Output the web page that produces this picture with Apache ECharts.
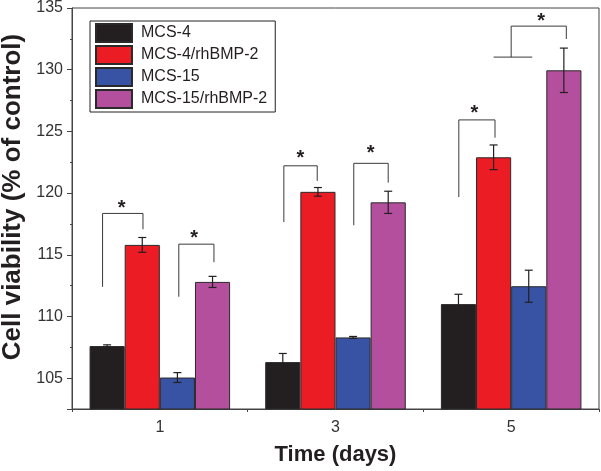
<!DOCTYPE html>
<html><head><meta charset="utf-8">
<script src="https://cdn.jsdelivr.net/npm/echarts@6/dist/echarts.min.js"></script>
<style>html,body{margin:0;padding:0;background:#fff}#c{width:601px;height:471px}</style>
</head><body><div id="c"></div>
<script>
// ---- data ----
const categories = ['1', '3', '5'];
const seriesNames = ['MCS-4', 'MCS-4/rhBMP-2', 'MCS-15', 'MCS-15/rhBMP-2'];
const mcs4 = [107.6, 106.3, 111.0];
const mcs4Err = [0.1, 0.7, 0.8];
const mcs4Bmp = [115.8, 120.1, 122.9];
const mcs4BmpErr = [0.6, 0.35, 1.0];
const mcs15 = [105.05, 108.3, 112.45];
const mcs15Err = [0.4, 0.08, 1.3];
const mcs15Bmp = [112.8, 119.25, 129.95];
const mcs15BmpErr = [0.45, 0.9, 1.8];
const seriesColors = ['#231f20', '#ec1c24', '#3853a4', '#b34f9d'];
// significance brackets: group index, polylines of [bar-slot offset, value], star [slot, value]
const bracketGroup = [0, 0, 1, 1, 2, 2];
const bracketLines = [
  [[[-1.63, 112.40], [-1.63, 118.35], [-0.48, 118.35], [-0.48, 117.07]]],
  [[[0.54, 111.60], [0.54, 115.86], [1.54, 115.86], [1.54, 114.40]]],
  [[[-1.47, 117.65], [-1.47, 122.21], [-0.52, 122.21], [-0.52, 120.99]]],
  [[[0.52, 117.39], [0.52, 122.41], [1.50, 122.41], [1.50, 120.85]]],
  [[[-1.49, 119.68], [-1.49, 125.93], [-0.46, 125.93], [-0.46, 124.49]]],
  [[[-0.50, 131.02], [0.60, 131.02]], [[0.0, 131.02], [0.0, 133.53], [1.57, 133.53], [1.57, 132.49]]]
];
const starPos = [[-1.09, 119.15], [0.98, 116.67], [-1.0, 123.21], [1.0, 123.61], [-1.05, 126.81], [0.85, 134.28]];
// ---- chart ----
const FONT = 'Liberation Sans, Arial, Helvetica, sans-serif';
const values = [mcs4, mcs4Bmp, mcs15, mcs15Bmp];
const errs = [mcs4Err, mcs4BmpErr, mcs15Err, mcs15BmpErr];
const BAR_FRAC = 0.2;

function slotPoint(api, cat, slot, v) {
  const p = api.coord([cat, v]);
  const bw = api.size([1, 0])[0] * BAR_FRAC;
  return [p[0] + slot * bw, p[1]];
}

const errData = [];
values.forEach((arr, s) => arr.forEach((v, c) => errData.push([c, v, errs[s][c], s - 1.5])));

const barSeries = seriesNames.map((name, s) => ({
  name, type: 'bar', data: values[s],
  barGap: '0%', barCategoryGap: '20%',
  itemStyle: { color: seriesColors[s], borderColor: '#2a2a2a', borderWidth: 1 },
  emphasis: { disabled: true }, z: 2
}));

const option = {
  animation: false,
  grid: { left: 72, right: 2, top: 6, bottom: 59, show: true, borderColor: '#444', borderWidth: 1, backgroundColor: 'transparent' },
  legend: {
    data: seriesNames, orient: 'vertical', left: 90, top: 21,
    itemWidth: 36, itemHeight: 18, itemGap: 2, padding: [2, 8, 3, 5],
    borderColor: '#222', borderWidth: 1, icon: 'rect',
    textStyle: { fontSize: 16, color: '#231f20', fontFamily: FONT, padding: [0, 0, 0, 4] }
  },
  xAxis: [{
    type: 'category', data: categories,
    name: 'Time (days)', nameLocation: 'middle', nameGap: 35,
    nameTextStyle: { fontSize: 22, fontWeight: 'bold', color: '#231f20', fontFamily: FONT },
    axisLine: { lineStyle: { color: '#444', width: 1 } },
    axisTick: { alignWithLabel: true, length: 6, lineStyle: { color: '#444' } },
    axisLabel: { fontSize: 16, color: '#333', margin: 11, fontFamily: FONT },
    splitLine: { show: false }
  }, {
    type: 'category', data: categories, position: 'bottom',
    axisLine: { show: false }, axisLabel: { show: false },
    axisTick: { show: true, length: 3, lineStyle: { color: '#444' } },
    splitLine: { show: false }
  }],
  yAxis: {
    type: 'value', min: 102.5, max: 135, splitNumber: 6,
    axisLine: { show: true, lineStyle: { color: '#444', width: 1 } },
    axisTick: { show: true, length: 5, lineStyle: { color: '#444' } },
    minorTick: { show: true, splitNumber: 2, length: 2, lineStyle: { color: '#444' } },
    axisLabel: { fontSize: 16, color: '#333', margin: 9, fontFamily: FONT, showMinLabel: false },
    splitLine: { show: false }
  },
  graphic: [{
    type: 'text', x: 13, y: 197, rotation: Math.PI / 2,
    style: { text: 'Cell viability (% of control)', font: 'bold 26px ' + FONT, fill: '#231f20', align: 'center', verticalAlign: 'middle' }
  }],
  series: barSeries.concat([{
    type: 'custom', name: 'err', data: errData, z: 5, silent: true,
    renderItem(params, api) {
      const c = api.value(0), v = api.value(1), e = api.value(2), slot = api.value(3);
      const top = slotPoint(api, c, slot, v + e), bot = slotPoint(api, c, slot, v - e);
      const x = top[0], hw = 4;
      const st = { stroke: '#231f20', lineWidth: 1.2 };
      return { type: 'group', children: [
        { type: 'line', shape: { x1: x, y1: top[1], x2: x, y2: bot[1] }, style: st },
        { type: 'line', shape: { x1: x - hw, y1: top[1], x2: x + hw, y2: top[1] }, style: st },
        { type: 'line', shape: { x1: x - hw, y1: bot[1], x2: x + hw, y2: bot[1] }, style: st }
      ] };
    }
  }, {
    type: 'custom', name: 'sig', data: bracketGroup.map((g, i) => [g, i]), z: 6, silent: true,
    renderItem(params, api) {
      const i = params.dataIndex, g = bracketGroup[i];
      const children = bracketLines[i].map(line => ({
        type: 'polyline',
        shape: { points: line.map(p => slotPoint(api, g, p[0], p[1])) },
        style: { stroke: '#3a3a3a', lineWidth: 1, fill: 'none' }
      }));
      const sp = slotPoint(api, g, starPos[i][0], starPos[i][1]);
      children.push({ type: 'text', x: sp[0], y: sp[1] + 4.6,
        style: { text: '*', font: 'bold 20px ' + FONT, fill: '#231f20', align: 'center', verticalAlign: 'middle' } });
      return { type: 'group', children };
    }
  }])
};
const chart = echarts.init(document.getElementById('c'), null, { renderer: 'canvas' });
chart.setOption(option);
</script></body></html>
